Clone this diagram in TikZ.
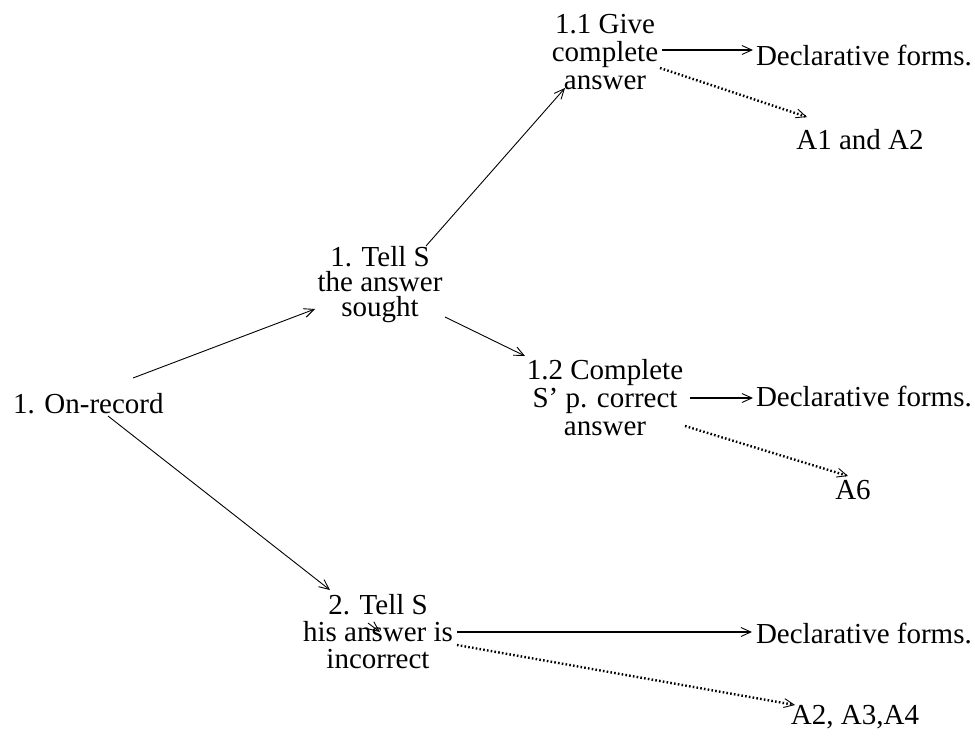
\documentclass[tikz,border=0pt]{standalone}
\usepackage{fontspec}
\setmainfont{Liberation Serif}
\usetikzlibrary{arrows.meta,calc}
\tikzset{
  lbl/.style={inner sep=0pt, outer sep=0pt, align=center, font=\fontsize{29}{27}\selectfont},
  thin/.style={line width=0.9pt, -{Straight Barb[length=10pt,width=9pt,line width=0.9pt]}},
  thick/.style={line width=1.8pt, -{Straight Barb[length=10pt,width=9pt,line width=0.9pt]}},
  dots/.style={line width=2.4pt, dash pattern=on 1.6pt off 2.2pt, -{Straight Barb[length=10pt,width=9pt,line width=0.9pt]}}
}
\begin{document}
\begin{tikzpicture}[x=1pt,y=-1pt]
\useasboundingbox (0,0) rectangle (975,740);
\node[lbl, anchor=base west] (on) at (13,413) {1. On-record};
\node[lbl, anchor=base, font=\fontsize{29}{25}\selectfont] (t1) at (380,316) {1. Tell S\\the answer\\sought};
\node[lbl, anchor=base, font=\fontsize{29}{28}\selectfont] (g11) at (605,89) {1.1 Give\\complete\\answer};
\node[lbl, anchor=base west] (d1) at (756,65) {Declarative forms.};
\node[lbl, anchor=base] (a12) at (860,149) {A1 and A2};
\node[lbl, anchor=base, font=\fontsize{29}{28}\selectfont] (c12) at (605,435) {1.2 Complete\\S' p. correct\\answer};
\node[lbl, anchor=base west] (d2) at (756,406) {Declarative forms.};
\node[lbl, anchor=base] (a6) at (853,499) {A6};
\node[lbl, anchor=base] (t2) at (378,668) {2. Tell S\\his answer is\\incorrect};
\node[lbl, anchor=base west] (d3) at (756,643) {Declarative forms.};
\node[lbl, anchor=base] (a234) at (855,724) {A2, A3,A4};

\draw[thin] ($(on.base west)+(120,-35)$) -- ($(t1.base)+(-65,-7)$);
\draw[thin] ($(on.base west)+(95,3)$) -- ($(t2.base)+(-48,-78)$);
\draw[thin] ($(t1.base)+(46,-70)$) -- ($(g11.base)+(-40,-1)$);
\draw[thin] ($(t1.base)+(65,1)$) -- ($(c12.base)+(-80,-79)$);
\draw[thick] ($(g11.base)+(57,-39)$) -- ($(d1.base west)+(-3,-15)$);
\draw[dots] ($(g11.base)+(55,-21)$) -- ($(a12.base)+(-53,-32)$);
\draw[thick] ($(c12.base)+(85,-37)$) -- ($(d2.base west)+(-3,-8)$);
\draw[dots] ($(c12.base)+(80,-9)$) -- ($(a6.base)+(-5,-23)$);
\draw[thick] ($(t2.base)+(79,-36)$) -- ($(d3.base west)+(-4,-11)$);
\draw[dots] ($(t2.base)+(79,-23)$) -- ($(a234.base)+(-60,-19)$);
\draw[thin] ($(t2.base)+(-10,-45)$) -- ($(t2.base)+(2,-36)$);
\end{tikzpicture}
\end{document}
